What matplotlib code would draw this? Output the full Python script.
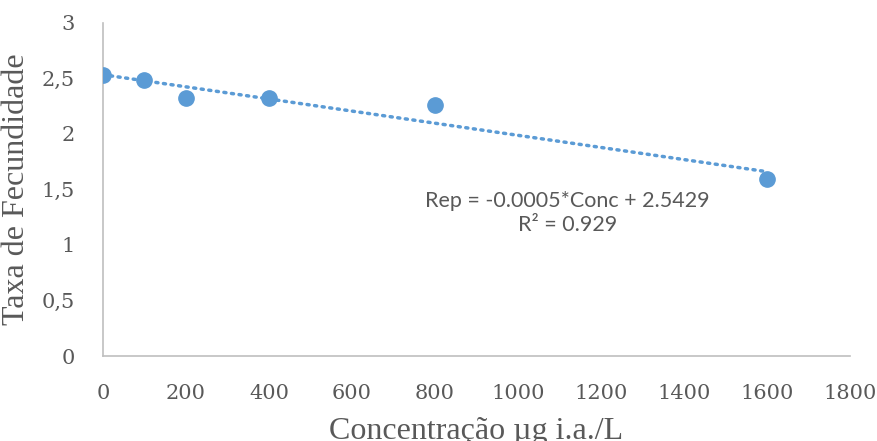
import numpy as np
import matplotlib.pyplot as plt

conc = [0, 100, 200, 400, 800, 1600]
fecund = [2.53, 2.49, 2.32, 2.32, 2.26, 1.59]
xticks = [0, 200, 400, 600, 800, 1000, 1200, 1400, 1600, 1800]
yticks = [0, 0.5, 1, 1.5, 2, 2.5, 3]
ytick_labels = ['0', '0,5', '1', '1,5', '2', '2,5', '3']

blue = '#5B9BD5'
grey = '#595959'

fig = plt.figure(figsize=(8.77, 4.41), dpi=100)
ax = fig.add_axes([0.1174, 0.1927, 0.8516, 0.7553])

# trend line fitted on the data
slope, intercept = np.polyfit(conc, fecund, 1)
xs = np.array([min(conc), max(conc)])
ax.plot(xs, slope * xs + intercept, color=blue, lw=2.5, ls=(0, (0.6, 1.6)),
        dash_capstyle='round', zorder=2)
ax.plot(conc, fecund, 'o', color=blue, ms=11, zorder=3)

ax.set_xlim(0, 1800)
ax.set_ylim(0, 3)
ax.set_xticks(xticks)
ax.set_yticks(yticks)
ax.set_yticklabels(ytick_labels)
ax.tick_params(length=0, labelsize=15, colors=grey)
for lab in ax.get_xticklabels() + ax.get_yticklabels():
    lab.set_family('DejaVu Serif')
ax.tick_params(axis='x', pad=20)
ax.tick_params(axis='y', pad=20)

for s in ['top', 'right']:
    ax.spines[s].set_visible(False)
for s in ['left', 'bottom']:
    ax.spines[s].set_color('#BFBFBF')
    ax.spines[s].set_linewidth(1.2)

ax.set_xlabel('Concentração µg i.a./L', family='Liberation Serif', fontsize=23,
              color=grey, labelpad=10)
ax.set_ylabel('Taxa de Fecundidade', family='Liberation Serif', fontsize=23,
              color=grey, labelpad=8)

ax.text(1120, 1.29, 'Rep = -0.0005*Conc + 2.5429\nR² = 0.929', ha='center', va='center',
        fontsize=15.5, color=grey, family='Lato', linespacing=1.25)

plt.savefig('out.png', dpi=100)
